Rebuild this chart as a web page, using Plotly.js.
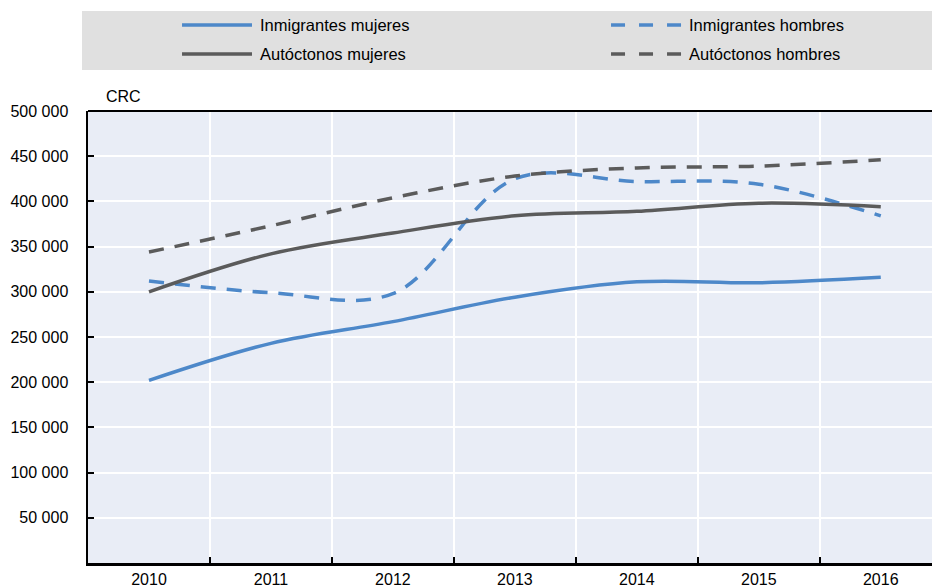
<!DOCTYPE html>
<html><head><meta charset="utf-8">
<script src="https://cdn.plot.ly/plotly-3.0.1.min.js"></script>
<style>html,body{margin:0;padding:0;background:#fff}#chart{width:932px;height:588px}</style>
</head><body><div id="chart"></div>
<script>
const years = ['2010','2011','2012','2013','2014','2015','2016'];
const inmigrantesMujeres = [202000, 243000, 267000, 294000, 311000, 310000, 316000];
const inmigrantesHombres = [312000, 299000, 298000, 425000, 422000, 419000, 384000];
const autoctonosMujeres = [300000, 342000, 365000, 384000, 389000, 398000, 394000];
const autoctonosHombres = [344000, 373000, 404000, 428000, 437000, 439000, 446000];
const seriesNames = ['Inmigrantes mujeres','Inmigrantes hombres','Autóctonos mujeres','Autóctonos hombres'];
const yTicks = [50000,100000,150000,200000,250000,300000,350000,400000,450000,500000];

const BLUE = '#4d88c9', GRAY = '#5b5b5b';
const FONT = 'Arial, "Liberation Sans", sans-serif';
const series = [
  {y: inmigrantesMujeres, color: BLUE, dash: 'solid'},
  {y: inmigrantesHombres, color: BLUE, dash: '15px,11px'},
  {y: autoctonosMujeres, color: GRAY, dash: 'solid'},
  {y: autoctonosHombres, color: GRAY, dash: '15px,11px'}
];
const data = series.map((s, i) => ({
  x: years, y: s.y, name: seriesNames[i], type: 'scatter', mode: 'lines', showlegend: false,
  line: {color: s.color, width: 3.5, dash: s.dash, shape: 'spline', smoothing: 1}
}));

// manual legend (2 columns x 2 rows), paper coordinates
const legCols = [{x0: 0.1114, x1: 0.1943, tx: 0.2014}, {x0: 0.6197, x1: 0.7038, tx: 0.7097}];
const legRows = [1.1903, 1.1261];
const shapes = [
  {type:'rect', xref:'paper', yref:'paper', x0:-0.0071, x1:1.0, y0:1.0907, y1:1.2212,
    fillcolor:'#e0e0e0', line:{width:0}, layer:'below'},
  {type:'line', xref:'paper', yref:'paper', x0:0, x1:1, y0:1, y1:1, line:{color:'#000', width:2}}
];
const annotations = [
  {text:'CRC', xref:'paper', yref:'paper', x:0.019, y:1.033, xanchor:'left', yanchor:'middle',
    showarrow:false, font:{family:FONT, size:16, color:'#000'}}
];
series.forEach((s, i) => {
  const c = legCols[i % 2], r = legRows[Math.floor(i / 2)];
  shapes.push({type:'line', xref:'paper', yref:'paper', x0:c.x0, x1:c.x1, y0:r, y1:r,
    line:{color:s.color, width:3.5, dash: s.dash === 'solid' ? 'solid' : '14px,14px'}});
  annotations.push({text: seriesNames[i], xref:'paper', yref:'paper', x:c.tx, y:r,
    xanchor:'left', yanchor:'middle', showarrow:false,
    font:{family:FONT, size:16.5, color:'#000'}});
});

const layout = {
  width:932, height:588,
  margin:{l:88, r:0, t:111, b:25},
  paper_bgcolor:'#ffffff', plot_bgcolor:'#e9edf6',
  font:{family:FONT, size:16, color:'#000'},
  separators:', ',
  showlegend:false,
  xaxis:{type:'category', range:[-0.5, 6.42], tickson:'boundaries',
    showgrid:true, gridcolor:'#ffffff', gridwidth:2,
    ticks:'inside', ticklen:6, tickwidth:2, tickcolor:'#000',
    showline:true, linecolor:'#000', linewidth:2.5, zeroline:false,
    tickfont:{family:FONT, size:16}, fixedrange:true},
  yaxis:{range:[0,500000], tickvals:yTicks, tickformat:',d',
    showgrid:true, gridcolor:'#ffffff', gridwidth:2,
    ticks:'inside', ticklen:6, tickwidth:2, tickcolor:'#000',
    showline:true, linecolor:'#000', linewidth:2.5, zeroline:false,
    ticklabelstandoff:14, tickfont:{family:FONT, size:16}, fixedrange:true},
  shapes: shapes,
  annotations: annotations
};
Plotly.newPlot('chart', data, layout, {displayModeBar:false, staticPlot:true});
</script></body></html>
